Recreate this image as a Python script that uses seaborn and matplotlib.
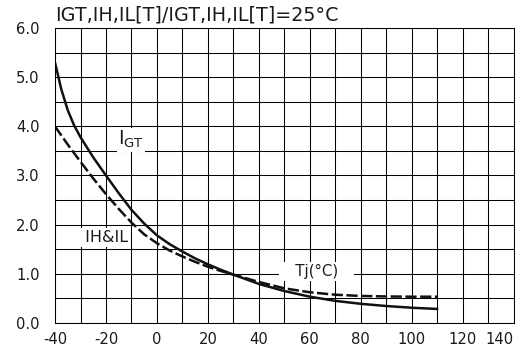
import pandas as pd
import matplotlib
matplotlib.use("Agg")
import matplotlib.pyplot as plt
import seaborn as sns
from matplotlib.ticker import MultipleLocator, FormatStrFormatter

# values
tj_igt = [-40, -37.5, -35, -32.5, -30, -25, -20, -15, -10, -5, 0, 5, 10, 15, 20, 25, 30,
          40, 50, 60, 70, 80, 90, 100, 110]
igt = [5.30, 4.75, 4.33, 4.02, 3.78, 3.37, 3.00, 2.64, 2.30, 2.02, 1.78, 1.60, 1.45, 1.31,
       1.19, 1.08, 0.98, 0.79, 0.645, 0.53, 0.445, 0.385, 0.34, 0.305, 0.28]

tj_ih = [-40, -35, -30, -25, -20, -15, -10, -5, 0, 5, 10, 15, 20, 25, 30,
         40, 50, 60, 70, 80, 90, 100, 110]
ih_il = [4.00, 3.63, 3.28, 2.94, 2.62, 2.32, 2.04, 1.80, 1.62, 1.47, 1.35, 1.24, 1.14,
         1.055, 0.98, 0.83, 0.70, 0.62, 0.57, 0.545, 0.535, 0.53, 0.53]

x_ticks = [-40, -20, 0, 20, 40, 60, 80, 100, 120, 140]
title = "IGT,IH,IL[T]/IGT,IH,IL[T]=25°C"

sns.set_theme(style="white")
plt.rcParams["font.family"] = ["DejaVu Sans"]
plt.rcParams["axes.unicode_minus"] = False

df_igt = pd.DataFrame({"Tj": tj_igt, "ratio": igt})
df_ih = pd.DataFrame({"Tj": tj_ih, "ratio": ih_il})

fig = plt.figure(figsize=(5.26, 3.54), dpi=100)
ax = fig.add_axes([0.1046, 0.0884, 0.8721, 0.8317])

sns.lineplot(data=df_igt, x="Tj", y="ratio", ax=ax, color="#111111", lw=1.8)
sns.lineplot(data=df_ih, x="Tj", y="ratio", ax=ax, color="#111111", lw=1.8,
             linestyle=(0, (4.5, 1.4)))

ax.set_xlim(-40, 140)
ax.set_ylim(0, 6)
ax.set_xticks(x_ticks)
ax.xaxis.set_minor_locator(MultipleLocator(10))
ax.yaxis.set_major_locator(MultipleLocator(1))
ax.yaxis.set_minor_locator(MultipleLocator(0.5))
ax.yaxis.set_major_formatter(FormatStrFormatter("%.1f"))
ax.set_axisbelow(True)
ax.grid(which="both", color="black", lw=0.75)
for s in ax.spines.values():
    s.set_color("black")
    s.set_linewidth(0.75)
ax.tick_params(which="both", length=0, labelsize=10.6, colors="#1a1a1a")
ax.tick_params(axis="x", pad=7)
ax.tick_params(axis="y", pad=11)
ax.set_xlabel("")
ax.set_ylabel("")

ylabels = ax.get_yticklabels()
ylabels[0].set_va("bottom")
ylabels[-1].set_va("top")
xlabels = ax.get_xticklabels()
xlabels[-1].set_ha("right")

ax.set_title(title, loc="left", fontsize=13.8, pad=5.5, color="#1a1a1a")

box = dict(facecolor="white", edgecolor="none", pad=1.5)
ax.text(-15.3, 3.62, r"I$_{\mathregular{GT}}$", fontsize=13.5, ha="left",
        va="baseline", color="#1a1a1a", bbox=dict(facecolor="white", edgecolor="none", pad=1))
ax.text(-30.2, 1.645, " IH&IL", fontsize=11.5, ha="left", va="baseline",
        color="#1a1a1a", bbox=box)
ax.text(62.6, 0.952, "   Tj(°C)   ", fontsize=10.8, ha="center", va="baseline",
        color="#1a1a1a", bbox=box)

fig.savefig("out.png", dpi=100)
